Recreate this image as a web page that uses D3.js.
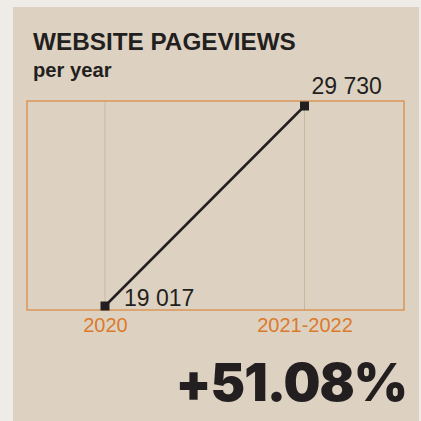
<!DOCTYPE html>
<html>
<head>
<meta charset="utf-8">
<script src="https://cdn.jsdelivr.net/npm/d3@7"></script>
<style>
  html, body { margin: 0; padding: 0; background: #efebe7; }
  svg { display: block; }
</style>
</head>
<body>
<svg id="chart" width="421" height="421"></svg>
<script>
// Pageview totals per period
const periods = ["2020", "2021-2022"];
const pageviews = [19017, 29730];
const changeLabel = "+51.08%";

const svg = d3.select("#chart");
const W = 421, H = 421;

// card background
svg.append("rect").attr("x", 13).attr("y", 7).attr("width", 406).attr("height", H - 7)
  .attr("fill", "#ddd2c1");

// titles
svg.append("text").attr("x", 33).attr("y", 50)
  .attr("font-family", "Liberation Sans, Arial, sans-serif").attr("font-weight", 700)
  .attr("font-size", 24.3).attr("fill", "#231f20").text("WEBSITE PAGEVIEWS");
svg.append("text").attr("x", 33).attr("y", 77)
  .attr("font-family", "Liberation Sans, Arial, sans-serif").attr("font-weight", 700)
  .attr("font-size", 20.2).attr("fill", "#231f20").text("per year");

// plot frame
const box = { left: 27, right: 404, top: 101, bottom: 310 };

const x = d3.scalePoint().domain(periods).range([105, 304.5]);
const y = d3.scaleLinear().domain([d3.min(pageviews), d3.max(pageviews)]).range([306, 106]);

// vertical gridlines
svg.append("g").selectAll("line").data(periods).join("line")
  .attr("x1", d => x(d)).attr("x2", d => x(d))
  .attr("y1", box.top).attr("y2", box.bottom)
  .attr("stroke", "#cbb89b").attr("stroke-width", 1);

svg.append("rect").attr("x", box.left).attr("y", box.top)
  .attr("width", box.right - box.left).attr("height", box.bottom - box.top)
  .attr("fill", "none").attr("stroke", "#d9873e").attr("stroke-width", 1.2);

// x axis labels
const xAxis = d3.axisBottom(x).tickSize(0).tickPadding(8);
const gx = svg.append("g").attr("transform", `translate(0,${box.bottom})`).call(xAxis);
gx.select(".domain").remove();
gx.selectAll("text").attr("font-family", "Liberation Sans, Arial, sans-serif")
  .attr("font-size", 20).attr("fill", "#dc7a2c");

const data = periods.map((p, i) => ({ p, v: pageviews[i] }));

// line
svg.append("path").datum(data)
  .attr("d", d3.line().x(d => x(d.p)).y(d => y(d.v)))
  .attr("fill", "none").attr("stroke", "#231f20").attr("stroke-width", 2.5);

// markers
svg.append("g").selectAll("rect").data(data).join("rect")
  .attr("x", d => x(d.p) - 4.5).attr("y", d => y(d.v) - 4.5)
  .attr("width", 9).attr("height", 9).attr("fill", "#231f20");

// value labels
const fmt = v => d3.format(",")(v).replace(/,/g, " ");
svg.append("g").selectAll("text").data(data).join("text")
  .attr("x", d => x(d.p) + (d.v === d3.max(pageviews) ? 7 : 19))
  .attr("y", d => d.v === d3.max(pageviews) ? y(d.v) - 12 : y(d.v))
  .attr("font-family", "Liberation Sans, Arial, sans-serif")
  .attr("font-size", 23).attr("fill", "#231f20")
  .text(d => fmt(d.v));

// headline change
svg.append("text").attr("x", 407).attr("y", 401).attr("text-anchor", "end")
  .attr("font-family", "Inter, Liberation Sans, sans-serif").attr("font-weight", 900)
  .attr("font-size", 52).attr("fill", "#231f20").attr("letter-spacing", -1)
  .text(changeLabel);
</script>
</body>
</html>
